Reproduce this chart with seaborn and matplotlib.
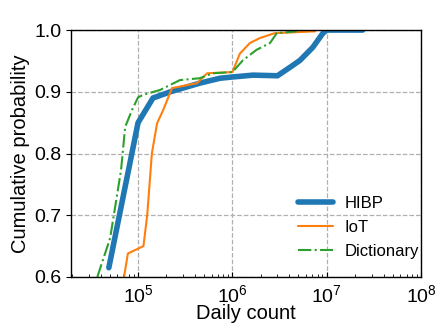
import numpy as np
import pandas as pd
import matplotlib
matplotlib.use("Agg")
import matplotlib.pyplot as plt
import seaborn as sns

# Cumulative distribution of daily counts
hibp_count = [4.9e4, 1.0e5, 1.44e5, 2.2e5, 4.5e5, 7.4e5, 1.0e6, 1.65e6, 3.0e6,
              4.1e6, 5.2e6, 7.1e6, 9.1e6, 1.0e7, 2.4e7]
hibp_prob = [0.615, 0.85, 0.89, 0.90, 0.914, 0.922, 0.924, 0.927, 0.926,
             0.94, 0.951, 0.972, 0.995, 1.0, 1.0]

iot_count = [7.1e4, 7.8e4, 1.14e5, 1.25e5, 1.4e5, 1.59e5, 1.84e5, 2.29e5, 3.1e5,
             4.2e5, 5.4e5, 1.0e6, 1.2e6, 1.53e6, 1.95e6, 2.8e6, 7.5e6]
iot_prob = [0.60, 0.638, 0.65, 0.70, 0.80, 0.849, 0.87, 0.906, 0.91,
            0.914, 0.93, 0.932, 0.962, 0.979, 0.987, 0.995, 0.998]

dict_count = [3.7e4, 5.06e4, 6.6e4, 7.3e4, 8.6e4, 1.0e5, 1.13e5, 1.71e5, 2.78e5,
              4.5e5, 6.2e5, 1.0e6, 1.29e6, 1.8e6, 2.5e6, 2.95e6, 4.8e6]
dict_prob = [0.60, 0.663, 0.773, 0.843, 0.87, 0.891, 0.895, 0.903, 0.919,
             0.922, 0.93, 0.932, 0.951, 0.968, 0.979, 0.995, 0.998]

sns.set_style("ticks")
plt.rcParams["font.family"] = ["Liberation Sans", "DejaVu Sans"]
plt.rcParams["mathtext.fontset"] = "custom"
plt.rcParams["mathtext.rm"] = "Liberation Sans"
plt.rcParams["mathtext.it"] = "Liberation Sans"
plt.rcParams["text.color"] = "black"
plt.rcParams["axes.labelcolor"] = "black"
plt.rcParams["xtick.color"] = "black"
plt.rcParams["ytick.color"] = "black"

fig = plt.figure(figsize=(4.36, 3.27), dpi=100)
ax = fig.add_axes([0.163, 0.153, 0.803, 0.755])

sns.lineplot(x=hibp_count, y=hibp_prob, ax=ax, color="#1f77b4", linewidth=4,
             sort=False, estimator=None, label="HIBP")
sns.lineplot(x=iot_count, y=iot_prob, ax=ax, color="#ff7f0e", linewidth=1.5,
             sort=False, estimator=None, label="IoT")
sns.lineplot(x=dict_count, y=dict_prob, ax=ax, color="#2ca02c", linewidth=1.5,
             sort=False, estimator=None, label="Dictionary", linestyle="-.")

ax.set_xscale("log")
ax.set_xlim(1.95e4, 1e8)
ax.set_ylim(0.6, 1.0)
ax.set_yticks([0.6, 0.7, 0.8, 0.9, 1.0])
ax.grid(True, which="major", color="#b0b0b0", linestyle="--", linewidth=0.9)
ax.tick_params(axis="x", which="both", direction="in", labelsize=14, pad=5)
ax.tick_params(axis="y", direction="out", labelsize=14)
for s in ax.spines.values():
    s.set_linewidth(1.0)
    s.set_color("black")

ax.set_xlabel("Daily count", fontsize=14.5, labelpad=-1)
ax.set_ylabel("Cumulative probability", fontsize=14.5, labelpad=3)
ax.legend(loc="lower right", bbox_to_anchor=(1.02, 0.035), frameon=False,
          fontsize=12, handlelength=2.1, handletextpad=0.7,
          borderaxespad=0.15, labelspacing=0.55)

fig.savefig("out.png", dpi=100)
